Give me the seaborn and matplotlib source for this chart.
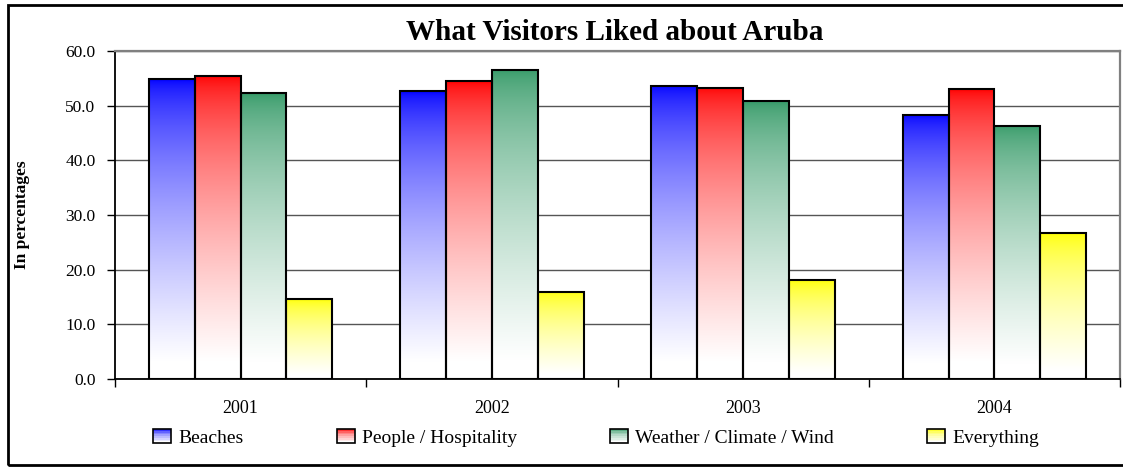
import numpy as np
import pandas as pd
import matplotlib
matplotlib.use("Agg")
import matplotlib.pyplot as plt
import seaborn as sns
from matplotlib.patches import Rectangle
from matplotlib.legend_handler import HandlerBase
from matplotlib.colors import to_rgb

# values (percent)
years = ["2001", "2002", "2003", "2004"]
beaches = [54.8, 52.6, 53.6, 48.3]
people = [55.4, 54.5, 53.3, 53.0]
weather = [52.3, 56.6, 50.8, 46.3]
everything = [14.6, 16.0, 18.1, 26.7]
series = ["Beaches", "People / Hospitality", "Weather / Climate / Wind", "Everything"]
colors = ["#0000ff", "#ff0000", "#339966", "#ffff00"]

df = pd.DataFrame({
    "Year": years * 4,
    "Aspect": np.repeat(series, len(years)),
    "Pct": beaches + people + weather + everything,
})

sns.set_style("white")
plt.rcParams["font.family"] = ["Liberation Serif", "DejaVu Serif"]
plt.rcParams["text.color"] = "black"
plt.rcParams["xtick.color"] = "black"
plt.rcParams["ytick.color"] = "black"
plt.rcParams["axes.labelcolor"] = "black"

W, H = 1123, 467
fig = plt.figure(figsize=(W / 100, H / 100), dpi=100)
ax = fig.add_axes([115 / W, 1 - 379 / H, 1005 / W, 328 / H])

sns.barplot(data=df, x="Year", y="Pct", hue="Aspect", hue_order=series,
            palette=colors, saturation=1, width=0.73, edgecolor="black",
            linewidth=1.5, legend=False, ax=ax)


def whiteness(f):
    # f = fraction from the top of the bar; excel-like fade to white
    return np.clip(f / 0.94, 0, 1) ** 0.6


# gradient fills: colour at the top fading to white at the bottom
for p in list(ax.patches):
    x, y, w, h = p.get_x(), p.get_y(), p.get_width(), p.get_height()
    rgb = np.array(p.get_facecolor()[:3])
    f = np.linspace(1, 0, 256)[:, None]  # row 0 = bottom
    wt = whiteness(f)
    img = (1 - wt) * rgb + wt
    ax.imshow(img[:, None, :], extent=[x, x + w, y, y + h], origin="lower",
              aspect="auto", interpolation="bilinear", zorder=0.95)
    p.set_facecolor("none")
    p.set_zorder(1)

ax.set_xlim(-0.5, 3.5)
ax.set_ylim(0, 60)
ax.set_yticks(np.arange(0, 61, 10))
ax.set_yticklabels([f"{v:.1f}" for v in np.arange(0, 61, 10)])
ax.set_xticks(range(len(years)))
ax.set_xticklabels(years)
ax.set_xticks(np.arange(-0.5, 4, 1), minor=True)
ax.set_xlabel("")
ax.set_ylabel("")

ax.yaxis.grid(True, color="#555555", lw=1)
ax.set_axisbelow(True)
ax.tick_params(axis="y", direction="out", length=6, width=1, pad=8,
               labelsize=12.5, left=True, color="black", labelcolor="black")
ax.tick_params(axis="x", which="major", length=0, pad=15, labelsize=13,
               labelcolor="black")
ax.tick_params(axis="x", which="minor", direction="out", length=6, width=1,
               bottom=True, color="black")

for s in ["left", "bottom"]:
    ax.spines[s].set_color("black")
    ax.spines[s].set_linewidth(1.3)
for s in ["top", "right"]:
    ax.spines[s].set_color("#808080")
    ax.spines[s].set_linewidth(1.6)

fig.text(615 / W, 1 - 33 / H, "What Visitors Liked about Aruba", color="black",
         ha="center", va="center", fontsize=21, fontweight="bold")
fig.text(22 / W, 1 - 215 / H, "In percentages", rotation=90, color="black",
         ha="center", va="center", fontsize=12.5, fontweight="bold")


class GradHandler(HandlerBase):
    def create_artists(self, legend, orig, xd, yd, width, height, fontsize, trans):
        rgb = np.array(to_rgb(orig.get_facecolor()))
        arts = []
        n = 8
        for i in range(n):
            wt = whiteness((i + 0.5) / n)
            col = (1 - wt) * rgb + wt
            arts.append(Rectangle((-xd, -yd + height * (1 - (i + 1) / n)), width,
                                  height / n, facecolor=col, edgecolor="none",
                                  transform=trans))
        arts.append(Rectangle((-xd, -yd), width, height, facecolor="none",
                              edgecolor="black", lw=1.2, transform=trans))
        return arts


handles = [Rectangle((0, 0), 1, 1, facecolor=c) for c in colors]
fig.legend(handles=handles, labels=series, ncol=4, loc="center",
           bbox_to_anchor=(596 / W, 1 - 438 / H), frameon=False,
           handler_map={Rectangle: GradHandler()}, fontsize=14,
           handlelength=0.93, handleheight=0.72, handletextpad=0.36,
           columnspacing=4.8, labelcolor="black")

# outer chart border
fig.patches.append(Rectangle((8 / W, 1 - 465 / H), 1.2, 460 / H,
                             transform=fig.transFigure, fill=False,
                             edgecolor="black", lw=2))

fig.savefig("out.png", dpi=100)
